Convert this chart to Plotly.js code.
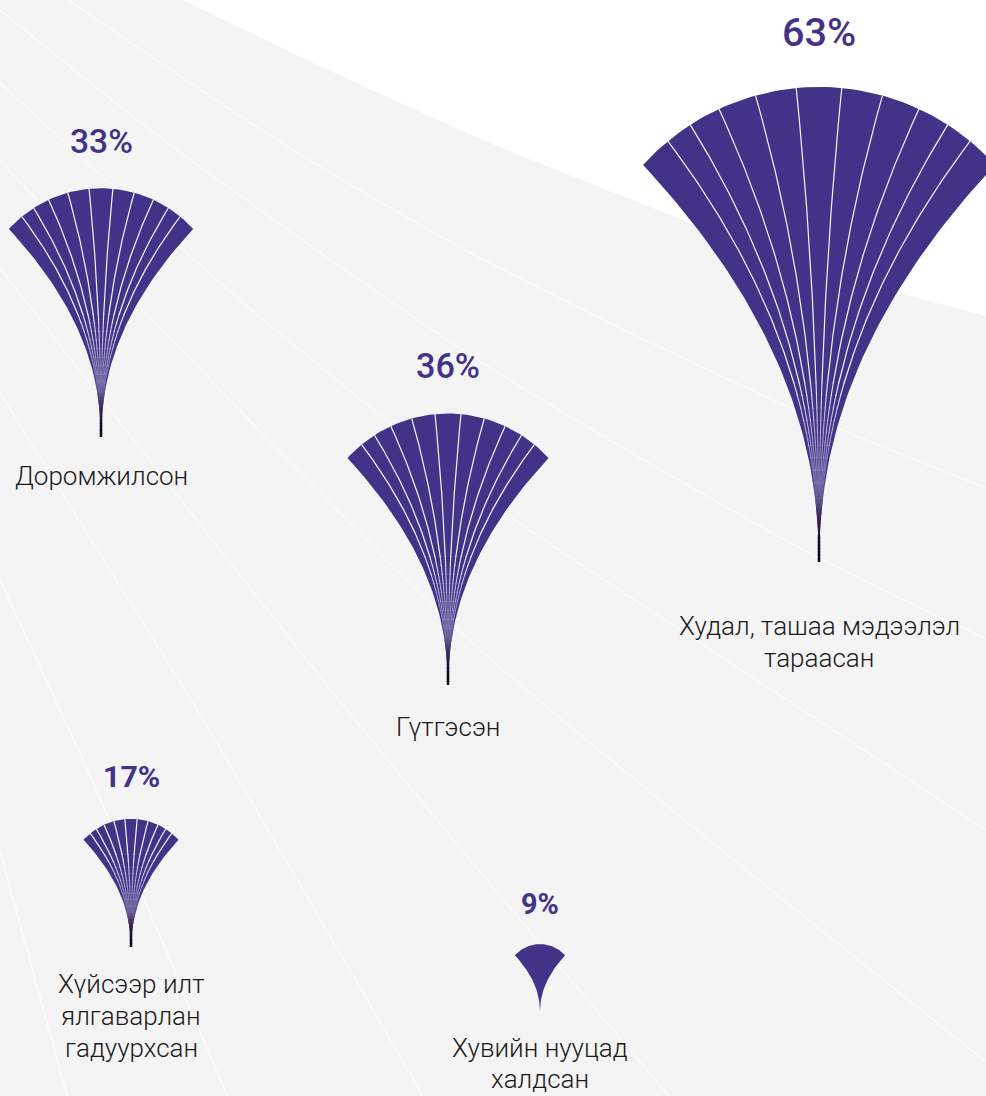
<!DOCTYPE html>
<html><head><meta charset="utf-8">
<script src="https://cdn.plot.ly/plotly-3.0.1.min.js"></script>
<style>html,body{margin:0;padding:0;background:#fff}#chart{width:986px;height:1096px}</style>
</head><body><div id="chart"></div>
<script>
// ---------- data ----------
const categories = ["Доромжилсон", "Гүтгэсэн", "Худал, ташаа мэдээлэл<br>тараасан", "Хүйсээр илт<br>ялгаварлан<br>гадуурхсан", "Хувийн нууцад<br>халдсан"];
const values = [33, 36, 63, 17, 9];
const valueLabels = ["33%", "36%", "63%", "17%", "9%"];

// ---------- layout (positions of each fan, in plot units) ----------
const fanX = [101, 448, 819, 131, 540];
const fanBaseY = [437, 685, 562, 947, 1012];
const catLabelY = [476, 727, 626, 984, 1048];   // centre of first text line
const catLinePitch = [32, 32, 32, 32, 31];

// petal divider angles (degrees from vertical) and outer edge angle
const dividerAngles = [-39.5, -32.8, -24.9, -15.5, -5.5, 5.5, 15.5, 24.9, 32.8, 39.5];
const edgeAngle = 47.8;

// background: grey/white boundary and thin white decorative lines
const boundaryX = [120, 183, 333, 490, 640, 713, 800, 889, 986, 1100];
const boundaryY = [-33, 0, 72, 143, 203, 232, 262, 290, 316, 344];
const bgLinesX = [
  [68, 293, 486, 793, 986],
  [0, 177, 486, 800, 986],
  [0, 240, 390, 486, 553, 986],
  [0, 340, 486, 986],
  [0, 217, 347, 486, 669],
  [0, 95, 197, 423],
  [0, 60, 83, 170, 227],
  [0, 67]
];
const bgLinesY = [
  [0, 150, 261, 409, 488],
  [10, 150, 365, 548, 639],
  [83, 300, 423, 500, 546, 830],
  [161, 513, 655, 1062],
  [268, 546, 710, 879, 1096],
  [393, 546, 710, 1096],
  [580, 710, 760, 960, 1096],
  [851, 1096]
];

// ---------- style ----------
const PURPLE = '#423388';
const GREY = '#f4f4f4';
const K = 3.77;   // radius (px) per percentage point
const P = 2.1;    // curvature of petal edges
const DEG = Math.PI / 180;

const traces = [];

// grey background region
{
  const xs = [-100].concat(boundaryX, [1100, -100, -100]);
  const ys = [-100].concat(boundaryY, [1200, 1200, -100]);
  traces.push({x: xs, y: ys, type: 'scatter', mode: 'lines', fill: 'toself',
    fillcolor: GREY, line: {width: 0, shape: 'spline', smoothing: 0.6}, hoverinfo: 'skip'});
}
bgLinesX.forEach((xs, i) => {
  traces.push({x: xs, y: bgLinesY[i], type: 'scatter', mode: 'lines',
    line: {color: '#ffffff', width: 1, shape: 'spline', smoothing: 0.8}, hoverinfo: 'skip'});
});

function hexToRgb(h) { return [1,3,5].map(i => parseInt(h.substr(i, 2), 16)); }
function mix(stops, t) {
  t = Math.max(0, Math.min(1, t));
  for (let i = 0; i < stops.length - 1; i++) {
    const [t0, c0] = stops[i], [t1, c1] = stops[i + 1];
    if (t <= t1) {
      const u = (t - t0) / (t1 - t0);
      const a = hexToRgb(c0), b = hexToRgb(c1);
      return a.map((v, k) => Math.round(v + (b[k] - v) * u));
    }
  }
  return hexToRgb(stops[stops.length - 1][1]);
}
const gradStops = [[0, '#050208'], [0.3, '#1d1030'], [0.5, '#3a2b5b'], [0.7, '#594d83'], [0.85, '#6a5f96'], [1, '#74699f']];

values.forEach((v, i) => {
  const cx = fanX[i], by = fanBaseY[i];
  const R = K * v;
  const edgeX = (theta, h) => cx + R * Math.sin(theta * DEG) * Math.pow(Math.max(h, 0) / (R * (1 + Math.cos(theta * DEG))), P);
  const hEnd = theta => R * (1 + Math.cos(theta * DEG));

  // fan outline
  const fx = [], fy = [];
  const N = 60;
  for (let k = 0; k <= N; k++) { const h = hEnd(edgeAngle) * k / N; fx.push(edgeX(-edgeAngle, h)); fy.push(by - h); }
  for (let k = 1; k < N; k++) { const a = (-edgeAngle + 2 * edgeAngle * k / N) * DEG; fx.push(cx + R * Math.sin(a)); fy.push(by - R - R * Math.cos(a)); }
  for (let k = N; k >= 0; k--) { const h = hEnd(edgeAngle) * k / N; fx.push(edgeX(edgeAngle, h)); fy.push(by - h); }
  traces.push({x: fx, y: fy, type: 'scatter', mode: 'lines', fill: 'toself', fillcolor: PURPLE,
    line: {width: 0}, hoverinfo: 'skip'});

  if (v < 10) return;

  const stemLen = 27;
  const G = 30 + 0.25 * R;
  const hFadeTop = 2.0 * G;   // above this the divider lines are pure white
  const hFadeBot = 0.6 * G;

  // divider lines: white above, fading into lavender towards the tip
  dividerAngles.forEach(th => {
    const hE = hEnd(th);
    const lx = [], ly = [];
    for (let k = 0; k <= 50; k++) { const h = hFadeTop + (hE - hFadeTop) * k / 50; lx.push(edgeX(th, h)); ly.push(by - h); }
    traces.push({x: lx, y: ly, type: 'scatter', mode: 'lines',
      line: {color: 'rgba(255,255,255,0.95)', width: 1.2}, hoverinfo: 'skip'});
    const SEG = 10;
    for (let s = 0; s < SEG; s++) {
      const h0 = hFadeBot + (hFadeTop - hFadeBot) * s / SEG;
      const h1 = hFadeBot + (hFadeTop - hFadeBot) * (s + 1) / SEG + 0.6;
      const u = (s + 0.5) / SEG;
      const r = Math.round(160 + 95 * u), g = Math.round(150 + 105 * u), b = Math.round(200 + 55 * u);
      const a = (0.35 + 0.6 * u).toFixed(3);
      const sx = [], sy = [];
      for (let k = 0; k <= 4; k++) { const h = h0 + (h1 - h0) * k / 4; sx.push(edgeX(th, h)); sy.push(by - h); }
      traces.push({x: sx, y: sy, type: 'scatter', mode: 'lines',
        line: {color: `rgba(${r},${g},${b},${a})`, width: 1.1}, hoverinfo: 'skip'});
    }
  });

  // colour gradient near the tip
  const S = 20;
  for (let s = 0; s < S; s++) {
    const h0 = G * s / S, h1 = G * (s + 1) / S + 0.3;
    const t = (s + 0.5) / S;
    const c = mix(gradStops, t);
    const alpha = t < 0.6 ? 1 : Math.max(0, 1 - (t - 0.6) / 0.4);
    const px = [], py = [];
    for (let k = 0; k <= 4; k++) { const h = h0 + (h1 - h0) * k / 4; px.push(edgeX(-edgeAngle, h) - 0.3); py.push(by - h); }
    for (let k = 4; k >= 0; k--) { const h = h0 + (h1 - h0) * k / 4; px.push(edgeX(edgeAngle, h) + 0.3); py.push(by - h); }
    traces.push({x: px, y: py, type: 'scatter', mode: 'lines', fill: 'toself',
      fillcolor: `rgba(${c[0]},${c[1]},${c[2]},${alpha.toFixed(3)})`, line: {width: 0}, hoverinfo: 'skip'});
  }
  // stem
  const SS = 8;
  for (let s = 0; s < SS; s++) {
    const h0 = stemLen * s / SS, h1 = stemLen * (s + 1) / SS + 0.5;
    const c = mix(gradStops, (h0 + h1) / 2 / G);
    traces.push({x: [cx, cx], y: [by - h0, by - h1], type: 'scatter', mode: 'lines',
      line: {color: `rgb(${c[0]},${c[1]},${c[2]})`, width: 2.5}, hoverinfo: 'skip'});
  }
});

const annotations = [];
values.forEach((v, i) => {
  const R = K * v;
  const top = fanBaseY[i] - 2 * R;
  annotations.push({x: fanX[i], y: top - (38 + 0.07 * R), text: valueLabels[i], showarrow: false,
    xanchor: 'center', yanchor: 'middle',
    font: {family: 'Roboto, sans-serif', size: 27 + 0.2 * v, color: PURPLE, weight: v < 30 ? 700 : 500}});
  categories[i].split('<br>').forEach((line, j) => {
    annotations.push({x: fanX[i], y: catLabelY[i] + j * catLinePitch[i], text: line, showarrow: false,
      xanchor: 'center', yanchor: 'middle', align: 'center',
      font: {family: 'Roboto, sans-serif', size: 26, color: '#1b1b1b', weight: 300}});
  });
});

const layout = {
  width: 986, height: 1096, margin: {l: 0, r: 0, t: 0, b: 0},
  paper_bgcolor: '#ffffff', plot_bgcolor: '#ffffff', showlegend: false,
  xaxis: {range: [0, 986], visible: false, fixedrange: true},
  yaxis: {range: [1096, 0], visible: false, fixedrange: true},
  annotations: annotations
};
Plotly.newPlot('chart', traces, layout, {staticPlot: true, displayModeBar: false});
</script></body></html>
